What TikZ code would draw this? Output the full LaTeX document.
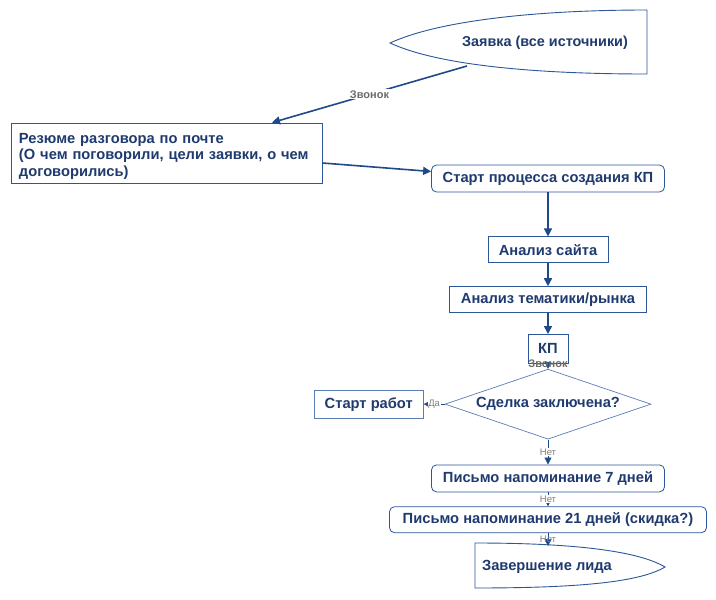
\documentclass[tikz,border=0pt]{standalone}
\usepackage{fontspec}
\setmainfont{Liberation Sans}
\usetikzlibrary{positioning, arrows.meta, shapes.geometric}

\definecolor{navy}{HTML}{1F3A6E}
\definecolor{edgec}{HTML}{2B579A}
\definecolor{lightedge}{HTML}{5A7DB5}
\definecolor{arrowc}{HTML}{1F4A8A}

\begin{document}
\begin{tikzpicture}[x=1pt, y=-1pt,
node distance=20pt,
box/.style={rectangle, draw=edgec, line width=0.8pt, fill=white, text=navy, font=\bfseries\fontsize{14.7}{17}\selectfont, minimum height=26pt, inner xsep=8pt, inner ysep=2pt},
rbox/.style={box, rounded corners=5pt},
outline/.style={draw=edgec, line width=0.9pt},
arrow/.style={-{Triangle[length=8pt, width=8pt]}, line width=1.6pt, draw=arrowc},
arrowaux/.style={-{Triangle[length=7pt, width=7pt]}, line width=0.8pt, draw=arrowc},
lbl/.style={font=\bfseries\fontsize{11}{12}\selectfont, text=black!58, fill=white, inner sep=1pt},
ans/.style={font=\fontsize{9.5}{10}\selectfont, text=black!50, fill=white, inner sep=0.5pt}
]
\useasboundingbox (0,0) rectangle (716,600);

% входящая заявка
\draw[outline, fill=white] (390,43) .. controls (440,20) and (540,10) .. (647,10) -- (647,74) .. controls (540,74) and (440,66) .. (390,43) -- cycle;
\node[text=navy, font=\bfseries\fontsize{14.4}{17}\selectfont] (lead) at (545,43) {Заявка (все источники)};
\coordinate (lead_out) at (467,66);

\node[box, text width=295pt, align=left, minimum height=60pt, font=\bfseries\fontsize{14.7}{16.5}\selectfont] (resume) at (166.5,153) {\rule{0pt}{17pt}Резюме разговора по почте\\(О чем поговорили, цели заявки, о чем\\договорились)};

% основная цепочка
\node[rbox, minimum width=233pt, minimum height=27pt] (start_kp) at (548,178.5) {Старт процесса создания КП};
\node[box, minimum width=120pt, below=44pt of start_kp] (site) {Анализ сайта};
\node[box, minimum width=197pt, below=23pt of site] (market) {Анализ тематики/рынка};
\node[box, minimum width=40pt, minimum height=29pt, inner xsep=3pt, below=21pt of market] (kp) {КП};
\node[diamond, draw=lightedge, line width=0.7pt, fill=white, text=navy, font=\bfseries\fontsize{14.7}{17}\selectfont, aspect=2.94, inner sep=0pt, minimum width=206pt, minimum height=70pt, below=5pt of kp] (deal) {Сделка заключена?};
\node[box, draw=lightedge, minimum width=109pt, minimum height=28pt, left=21pt of deal] (work) {Старт работ};
\node[rbox, minimum width=233pt, minimum height=27pt, below=25pt of deal] (remind7) {Письмо напоминание 7 дней};
\node[rbox, minimum width=317pt, below=14pt of remind7] (remind21) {Письмо напоминание 21 дней (скидка?)};

% завершение
\draw[outline, fill=white] (475,543) .. controls (580,543) and (640,552) .. (665,567) .. controls (640,582) and (580,588) .. (475,588) -- cycle;
\node[text=navy, font=\bfseries\fontsize{14.7}{17}\selectfont] (finish) at (547,567) {Завершение лида};
\coordinate (finish_in) at (548,546);

\draw[arrow] (lead_out) -- node[lbl] {Звонок} (resume.north east -| 272,0);
\draw[arrow] ([yshift=-10pt]resume.east) -- ([yshift=7pt]start_kp.west);
\draw[arrow] (start_kp) -- (site);
\draw[arrow] (site) -- (market);
\draw[arrow] (market) -- (kp);
\draw[arrowaux] (kp) -- node[lbl, fill=none, pos=0.05] {Звонок} (deal);
\draw[arrowaux] (deal) -- node[ans] {Да} (work);
\draw[arrowaux] (deal) -- node[ans] {Нет} (remind7);
\draw[arrowaux] (remind7) -- node[ans] {Нет} (remind21);
\draw[arrowaux] (remind21) -- node[ans, fill=none] {Нет} (finish_in);

\end{tikzpicture}
\end{document}
